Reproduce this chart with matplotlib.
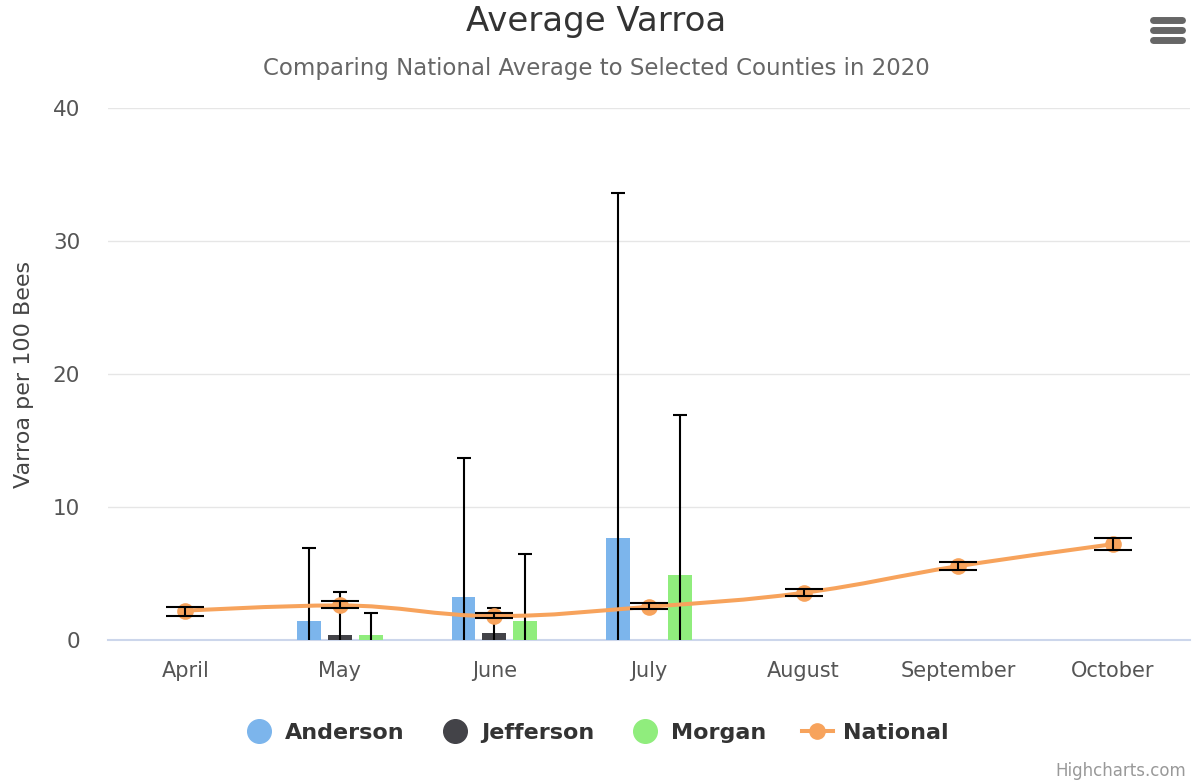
import numpy as np
import matplotlib
matplotlib.use("Agg")
import matplotlib.pyplot as plt
from matplotlib.path import Path
from matplotlib.patches import PathPatch
from matplotlib.lines import Line2D

# ---------------- data ----------------
months = ["April", "May", "June", "July", "August", "September", "October"]

county_names = ["Anderson", "Jefferson", "Morgan"]
anderson_mean = [None, 1.4, 3.2, 7.7, None, None, None]
anderson_sd = [None, 5.5, 10.5, 25.9, None, None, None]
jefferson_mean = [None, 0.4, 0.5, None, None, None, None]
jefferson_sd = [None, 3.2, 1.9, None, None, None, None]
morgan_mean = [None, 0.4, 1.4, 4.9, None, None, None]
morgan_sd = [None, 1.6, 5.1, 12.0, None, None, None]

national_mean = [2.2, 2.6, 1.8, 2.5, 3.55, 5.55, 7.2]
national_low = [1.8, 2.4, 1.65, 2.3, 3.3, 5.25, 6.75]
national_high = [2.45, 2.9, 2.0, 2.75, 3.8, 5.85, 7.7]

colors = {"Anderson": "#7cb5ec", "Jefferson": "#434348",
          "Morgan": "#90ed7d", "National": "#f7a35c"}

FONT = "DejaVu Sans"
plt.rcParams["font.family"] = [FONT]

fig = plt.figure(figsize=(11.93, 7.83), dpi=100)
ax = fig.add_axes([108 / 1193, 1 - 640 / 783, (1190 - 108) / 1193, (640 - 108) / 783])

x = np.arange(len(months))
offsets = [-0.2, 0.0, 0.2]
width = 0.155
series_m = [anderson_mean, jefferson_mean, morgan_mean]
series_s = [anderson_sd, jefferson_sd, morgan_sd]

for name, m, s, off in zip(county_names, series_m, series_s, offsets):
    xi = np.array([xx + off for xx, v in zip(x, m) if v is not None])
    mv = np.array([v for v in m if v is not None])
    sv = np.array([v for v in s if v is not None])
    ax.bar(xi, mv, width=width, color=colors[name], zorder=2, linewidth=0)
    ax.errorbar(xi, mv, yerr=sv, fmt="none", ecolor="black", elinewidth=1.5,
                capsize=4.7, capthick=1.5, zorder=3)

# ---- Highcharts-like spline through national means ----
def spline_path(xs, ys, smoothing=1.5):
    n = len(xs)
    denom = smoothing + 1
    left = [None] * n
    right = [None] * n
    for i in range(n):
        if 0 < i < n - 1:
            px, py = xs[i], ys[i]
            lx, ly = xs[i - 1], ys[i - 1]
            nx, ny = xs[i + 1], ys[i + 1]
            lcx = (smoothing * px + lx) / denom
            lcy = (smoothing * py + ly) / denom
            rcx = (smoothing * px + nx) / denom
            rcy = (smoothing * py + ny) / denom
            if rcx != lcx:
                joint = ((rcy - lcy) * (rcx - px)) / (rcx - lcx) + py - rcy
                lcy += joint
                rcy += joint
            if lcy > ly and lcy > py:
                lcy = max(ly, py)
                rcy = 2 * py - lcy
            elif lcy < ly and lcy < py:
                lcy = min(ly, py)
                rcy = 2 * py - lcy
            if rcy > ny and rcy > py:
                rcy = max(ny, py)
                lcy = 2 * py - rcy
            elif rcy < ny and rcy < py:
                rcy = min(ny, py)
                lcy = 2 * py - rcy
            left[i] = (lcx, lcy)
            right[i] = (rcx, rcy)
        else:
            left[i] = (xs[i], ys[i])
            right[i] = (xs[i], ys[i])
    verts = [(xs[0], ys[0])]
    codes = [Path.MOVETO]
    for i in range(1, n):
        verts += [right[i - 1], left[i], (xs[i], ys[i])]
        codes += [Path.CURVE4] * 3
    return Path(verts, codes)

nat_path = spline_path(list(x.astype(float)), national_mean)
ax.add_patch(PathPatch(nat_path, facecolor="none", edgecolor=colors["National"],
                       lw=2.9, zorder=4, capstyle="round", joinstyle="round"))
ax.plot(x, national_mean, "o", color=colors["National"], markersize=12,
        markeredgewidth=0, zorder=5)
nm = np.array(national_mean)
ax.errorbar(x, nm, yerr=[nm - np.array(national_low), np.array(national_high) - nm],
            fmt="none", ecolor="black", elinewidth=1.5, capsize=13.7,
            capthick=1.5, zorder=6)

# ---- axes styling ----
ax.set_xlim(-0.5, len(months) - 0.5)
ax.set_ylim(0, 40)
ax.set_yticks([0, 10, 20, 30, 40])
ax.set_xticks(x)
ax.set_xticklabels(months)
ax.grid(axis="y", color="#e6e6e6", linewidth=1.0, zorder=0)
ax.set_axisbelow(True)
for sp in ["top", "right", "left"]:
    ax.spines[sp].set_visible(False)
ax.spines["bottom"].set_color("#ccd6eb")
ax.spines["bottom"].set_linewidth(1.5)
ax.spines["bottom"].set_zorder(1)
ax.tick_params(axis="both", length=0, labelsize=15, labelcolor="#555555")
ax.tick_params(axis="y", labelsize=15.5, pad=20)
ax.tick_params(axis="x", pad=15)
ax.set_ylabel("Varroa per 100 Bees", fontsize=16, color="#444444")
ax.yaxis.set_label_coords((34 - 108) / 1082, 0.5)

fig.text(596 / 1193, 1 - 22 / 783, "Average Varroa", ha="center", va="center",
         fontsize=24.5, color="#333333")
fig.text(596 / 1193, 1 - 69 / 783, "Comparing National Average to Selected Counties in 2020",
         ha="center", va="center", fontsize=16.5, color="#666666")
fig.text(1186 / 1193, 1 - 771 / 783, "Highcharts.com", ha="right", va="center",
         fontsize=12, color="#999999")

# hamburger menu icon
for yy in [20, 30, 40]:
    fig.add_artist(Line2D([1153 / 1193, 1182 / 1193], [1 - yy / 783, 1 - yy / 783],
                          color="#666666", lw=5, solid_capstyle="round",
                          transform=fig.transFigure))

handles = [
    Line2D([], [], marker="o", linestyle="none", color=colors["Anderson"], markersize=17),
    Line2D([], [], marker="o", linestyle="none", color=colors["Jefferson"], markersize=17),
    Line2D([], [], marker="o", linestyle="none", color=colors["Morgan"], markersize=17),
    Line2D([], [], marker="o", linestyle="-", lw=2.9, color=colors["National"], markersize=11),
]
fig.legend(handles, ["Anderson", "Jefferson", "Morgan", "National"], loc="center",
           bbox_to_anchor=(596 / 1193, 1 - 733 / 783), ncol=4, frameon=False,
           prop={"weight": "bold", "size": 16}, labelcolor="#333333",
           handlelength=1.4, handletextpad=0.45, columnspacing=1.6)

fig.savefig("out.png", dpi=100)
